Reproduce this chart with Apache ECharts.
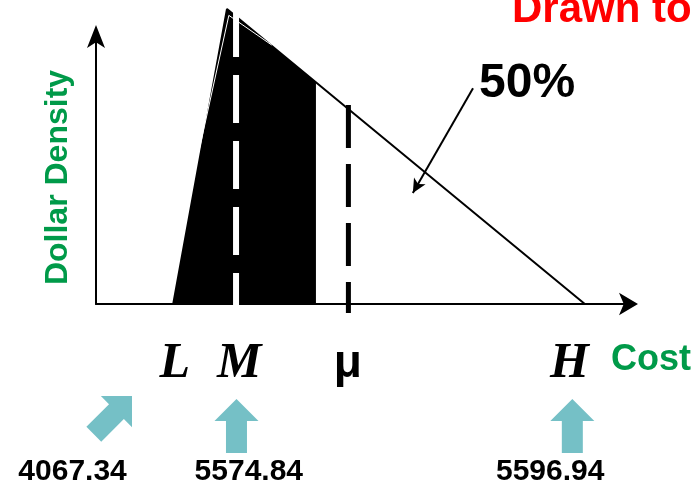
<!DOCTYPE html>
<html>
<head>
<meta charset="utf-8">
<script src="https://cdn.jsdelivr.net/npm/echarts@6/dist/echarts.min.js"></script>
<style>
  html, body { margin: 0; padding: 0; background: #ffffff; }
  #chart { width: 700px; height: 483px; }
</style>
</head>
<body>
<div id="chart"></div>
<script>
// Schematic triangular cost distribution: cost axis 0-100, density axis 0-100 (not to scale).
const triangleX = [14.5, 24.6, 91.8];          // L, peak, H
const triangleY = [0, 110.3, 0];
const shadedX = [14.5, 24.6, 41.3, 41.3];       // shaded half of the dollar density
const shadedY = [0, 110.3, 82.9, 0];
const edgeGapX = [15.0, 24.95, 33.0];           // thin light seam inside the outline
const edgeGapY = [18.0, 107.9, 96.8];
const modeLineX = 26.3;
const modeLineY = [110.3, -0.75];
const meanLineX = 47.4;
const meanLineY = [74.4, -3.4];

const pointLabels = ['L', 'M', 'μ', 'H'];
const pointLabelX = [14.8, 26.9, 47.3, 88.9];
const pointLabelY = -22.4;

const costValues = ['4067.34', '5574.84', '5596.94'];
const costValueX = [-4.4, 28.7, 85.3];
const costValueY = -62.6;

const pointerX = [6.76, 26.38, 89.45];
const pointerY = [-34.4, -35.5, -35.5];
const pointerAngle = [45, 0, 0];

const shareLabel = '50%';
const shareArrowFrom = [70.8, 80.7];
const shareArrowTo = [59.5, 41.5];

const GREEN = '#009A49';
const TEAL = '#75C0C6';
const SANS = 'Liberation Sans, Arial, sans-serif';
const SERIF = 'Liberation Serif, Times New Roman, serif';

const chart = echarts.init(document.getElementById('chart'), null, { renderer: 'canvas' });

const zip = (xs, ys) => xs.map((x, i) => [x, ys[i]]);

const labelData = pointLabels.map((t, i) => ({
  value: [pointLabelX[i], pointLabelY],
  label: t === 'μ'
    ? { formatter: t, fontFamily: SANS, fontWeight: 'bold', fontStyle: 'normal', fontSize: 46, color: '#000000', opacity: 1 }
    : { formatter: t, fontFamily: SERIF, fontWeight: 'bold', fontStyle: 'italic', fontSize: 50, color: '#000000', opacity: 1 }
}));

const valueData = costValues.map((t, i) => ({
  value: [costValueX[i], costValueY],
  label: { formatter: t }
}));

const pointerTemplate = [[0, 0], [22, 22], [10.5, 22], [10.5, 54], [-10.5, 54], [-10.5, 22], [-22, 22]];

const option = {
  animation: false,
  backgroundColor: '#ffffff',
  grid: { left: 96, right: 71.5, top: 36.5, bottom: 179, outerBoundsMode: 'none', containLabel: false },
  xAxis: {
    type: 'value', min: 0, max: 100,
    axisLine: { show: true, symbol: ['none', 'arrow'], symbolSize: [17, 19], symbolOffset: [0, 9.5],
                lineStyle: { color: '#000', width: 2 } },
    axisTick: { show: false }, axisLabel: { show: false }, splitLine: { show: false }
  },
  yAxis: {
    type: 'value', min: 0, max: 100,
    axisLine: { show: true, symbol: ['none', 'arrow'], symbolSize: [13.5, 23], symbolOffset: [0, 11.5],
                lineStyle: { color: '#000', width: 2 } },
    axisTick: { show: false }, axisLabel: { show: false }, splitLine: { show: false }
  },
  graphic: [
    { type: 'text', x: 512, y: 10.5, silent: true,
      style: { text: 'Drawn to', fill: '#FF0000', fontFamily: SANS, fontWeight: 'bold', fontSize: 42, align: 'left', verticalAlign: 'middle' } },
    { type: 'text', x: 479, y: 83.5, silent: true,
      style: { text: shareLabel, fill: '#000', fontFamily: SANS, fontWeight: 'bold', fontSize: 48, align: 'left', verticalAlign: 'middle' } },
    { type: 'text', x: 611, y: 360.5, silent: true,
      style: { text: 'Cost', fill: GREEN, fontFamily: SANS, fontWeight: 'bold', fontSize: 36, align: 'left', verticalAlign: 'middle' } },
    { type: 'text', x: 58.5, y: 177.5, rotation: Math.PI / 2, silent: true,
      style: { text: 'Dollar Density', fill: GREEN, fontFamily: SANS, fontWeight: 'bold', fontSize: 32, align: 'center', verticalAlign: 'middle' } }
  ],
  series: [
    {
      name: 'shaded', type: 'line', clip: false, z: 2,
      data: zip(shadedX, shadedY),
      symbol: 'none', lineStyle: { width: 0 },
      areaStyle: { color: '#000', opacity: 1, origin: 'start' }
    },
    {
      name: 'density', type: 'line', clip: false, z: 3,
      data: zip(triangleX, triangleY),
      symbol: 'none', lineStyle: { color: '#000', width: 2 },
      markLine: {
        silent: true, symbol: ['none', 'arrow'], symbolSize: [10, 14],
        lineStyle: { color: '#000', width: 2, type: 'solid' },
        label: { show: false }, emphasis: { disabled: true },
        data: [[{ coord: shareArrowFrom }, { coord: shareArrowTo }]]
      }
    },
    {
      name: 'seam', type: 'line', clip: false, z: 4,
      data: zip(edgeGapX, edgeGapY),
      symbol: 'none', lineStyle: { color: '#ffffff', width: 1 }
    },
    {
      name: 'mode', type: 'line', clip: false, z: 5,
      data: modeLineY.map(y => [modeLineX, y]),
      symbol: 'none', lineStyle: { color: '#ffffff', width: 6, type: [48, 18], cap: 'butt' }
    },
    {
      name: 'mean', type: 'line', clip: false, z: 5,
      data: meanLineY.map(y => [meanLineX, y]),
      symbol: 'none', lineStyle: { color: '#000', width: 5, type: [43, 16], cap: 'butt' }
    },
    {
      name: 'pointers', type: 'custom', clip: false, z: 6,
      data: pointerX.map((x, i) => [x, pointerY[i], pointerAngle[i]]),
      renderItem: function (params, api) {
        const p = api.coord([api.value(0), api.value(1)]);
        const a = api.value(2) * Math.PI / 180;
        const pts = pointerTemplate.map(([dx, dy]) => [
          p[0] + dx * Math.cos(a) - dy * Math.sin(a),
          p[1] + dx * Math.sin(a) + dy * Math.cos(a)
        ]);
        return { type: 'polygon', shape: { points: pts }, style: { fill: TEAL } };
      }
    },
    {
      name: 'pointLabels', type: 'scatter', clip: false, z: 7,
      symbolSize: 0, data: labelData,
      itemStyle: { opacity: 1, color: '#000000' },
      label: { show: true, position: 'inside', align: 'center', verticalAlign: 'middle', color: '#000000', opacity: 1 }
    },
    {
      name: 'costValues', type: 'scatter', clip: false, z: 7,
      symbolSize: 0, data: valueData,
      itemStyle: { opacity: 1, color: '#000000' },
      label: { show: true, position: 'inside', align: 'center', verticalAlign: 'middle', opacity: 1,
               color: '#000000', fontFamily: SANS, fontWeight: 'bold', fontSize: 30 }
    }
  ]
};

chart.setOption(option);
</script>
</body>
</html>
